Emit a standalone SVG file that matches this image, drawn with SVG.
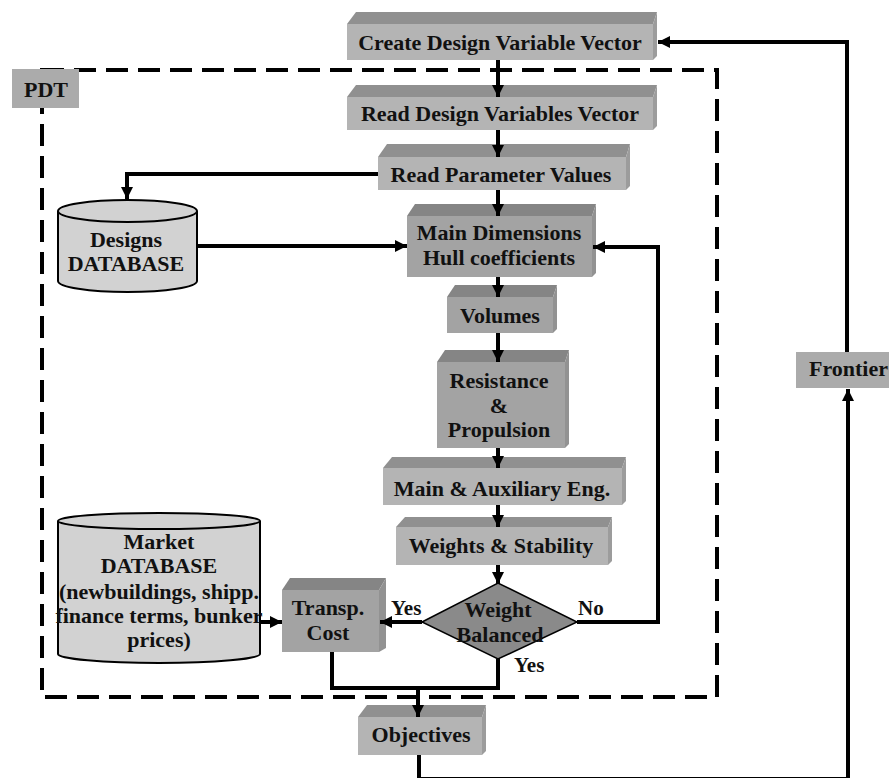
<svg xmlns="http://www.w3.org/2000/svg" width="889" height="778" viewBox="0 0 889 778" font-family="'Liberation Serif', 'Times New Roman', serif">
<style>
  text { font-family: 'Liberation Serif', 'Times New Roman', serif; font-weight: bold; font-size: 22px; fill: #111; text-anchor: middle; }
  .lbl { font-size: 21px; text-anchor: start; }
  .fl { fill: #b4b4b4; }
  .tl { fill: #909090; }
  .sl { fill: #9c9c9c; }
  .fd { fill: #a3a3a3; }
  .td { fill: #858585; }
  .sd { fill: #929292; }
  .flat { fill: #ababab; }
  .db { fill: #d2d2d2; stroke: #000; stroke-width: 2; }
  .conn { fill: none; stroke: #000; stroke-width: 4; }
  .dash { fill: none; stroke: #000; stroke-width: 4; stroke-dasharray: 22 10; }
</style>
<defs>
  <marker id="ah" markerUnits="userSpaceOnUse" markerWidth="14" markerHeight="14" refX="12" refY="7" orient="auto">
    <path d="M0,1 L12,7 L0,13 Z" fill="#000"/>
  </marker>
</defs>
<rect width="889" height="778" fill="#fff"/>

<rect id="pdt-border" class="dash" x="42" y="70" width="675" height="627"/>

<g id="pdt">
  <rect class="flat" x="12" y="69" width="67" height="39"/>
  <text x="46" y="97">PDT</text>
</g>

<g id="create">
  <polygon class="tl" points="347,24 356,12 657,12 653,24"/>
  <polygon class="sl" points="653,24 657,12 657,56 653,60"/>
  <rect class="fl" x="347" y="24" width="306" height="36"/>
  <text x="500" y="50">Create Design Variable Vector</text>
</g>

<g id="read-dv">
  <polygon class="tl" points="347,97 356,85 657,85 653,97"/>
  <polygon class="sl" points="653,97 657,85 657,126 653,130"/>
  <rect class="fl" x="347" y="97" width="306" height="33"/>
  <text x="500" y="121">Read Design Variables Vector</text>
</g>

<g id="read-param">
  <polygon class="tl" points="378,157 387,144 630,144 626,157"/>
  <polygon class="sl" points="626,157 630,144 630,186 626,190"/>
  <rect class="fl" x="378" y="157" width="248" height="33"/>
  <text x="501" y="182">Read Parameter Values</text>
</g>

<g id="designs-db">
  <path class="db" d="M58 211 V281 A69.5 11 0 0 0 197 281 V211"/>
  <ellipse class="db" cx="127.5" cy="211" rx="69.5" ry="11"/>
  <text x="126" y="247">Designs</text>
  <text x="126" y="271">DATABASE</text>
</g>

<g id="main-dim">
  <polygon class="td" points="407,216 415,204 596,204 592,216"/>
  <polygon class="sd" points="592,216 596,204 596,273 592,277"/>
  <rect class="fd" x="407" y="216" width="185" height="61"/>
  <text x="499" y="240">Main Dimensions</text>
  <text x="499" y="265">Hull coefficients</text>
</g>

<g id="volumes">
  <polygon class="td" points="447,297 455,285 557,285 553,297"/>
  <polygon class="sd" points="553,297 557,285 557,329 553,333"/>
  <rect class="fd" x="447" y="297" width="106" height="36"/>
  <text x="500" y="323">Volumes</text>
</g>

<g id="resistance">
  <polygon class="td" points="437,362 445,350 569,350 565,362"/>
  <polygon class="sd" points="565,362 569,350 569,444 565,448"/>
  <rect class="fd" x="437" y="362" width="128" height="86"/>
  <text x="499" y="388">Resistance</text>
  <text x="499" y="413">&amp;</text>
  <text x="499" y="437">Propulsion</text>
</g>

<g id="main-aux">
  <polygon class="tl" points="383,468 392,457 626,457 622,468"/>
  <polygon class="sl" points="622,468 626,457 626,501 622,505"/>
  <rect class="fl" x="383" y="468" width="239" height="37"/>
  <text x="502" y="496">Main &amp; Auxiliary Eng.</text>
</g>

<g id="weights">
  <polygon class="tl" points="396,527 405,517 612,517 608,527"/>
  <polygon class="sl" points="608,527 612,517 612,561 608,565"/>
  <rect class="fl" x="396" y="527" width="212" height="38"/>
  <text x="501" y="553">Weights &amp; Stability</text>
</g>

<g id="weight-balanced">
  <polygon points="422,622 498,583 577,622 498,659" fill="#8a8a8a" stroke="#000" stroke-width="1.5"/>
  <text x="498" y="617">Weight</text>
  <text x="500" y="642">Balanced</text>
</g>

<g id="market-db">
  <path class="db" d="M58 521 V654 A101 9 0 0 0 260 654 V521"/>
  <ellipse class="db" cx="159" cy="521" rx="101" ry="8"/>
  <text x="159" y="549">Market</text>
  <text x="159" y="573">DATABASE</text>
  <text x="159" y="599">(newbuildings, shipp.</text>
  <text x="159" y="623">finance terms, bunker</text>
  <text x="159" y="647">prices)</text>
</g>

<g id="transp">
  <polygon class="td" points="282,590 290,578 386,578 379,590"/>
  <polygon class="sd" points="379,590 386,578 386,648 379,652"/>
  <rect class="fd" x="282" y="590" width="97" height="62"/>
  <text x="328" y="615">Transp.</text>
  <text x="328" y="640">Cost</text>
</g>

<g id="objectives">
  <polygon class="tl" points="358,717 367,705 486,705 482,717"/>
  <polygon class="sl" points="482,717 486,705 486,751 482,755"/>
  <rect class="fl" x="358" y="717" width="124" height="38"/>
  <text x="421" y="742">Objectives</text>
</g>

<g id="frontier">
  <rect class="flat" x="796" y="352" width="100" height="36"/>
  <text x="809" y="376" style="text-anchor:start">Frontier</text>
</g>

<g id="connectors">
  <path class="conn" d="M498 60 V97" marker-end="url(#ah)"/>
  <path class="conn" d="M498 130 V157" marker-end="url(#ah)"/>
  <path class="conn" d="M498 190 V216" marker-end="url(#ah)"/>
  <path class="conn" d="M378 174 H127 V199" marker-end="url(#ah)"/>
  <path class="conn" d="M197 246 H407" marker-end="url(#ah)"/>
  <path class="conn" d="M498 277 V297" marker-end="url(#ah)"/>
  <path class="conn" d="M498 333 V362" marker-end="url(#ah)"/>
  <path class="conn" d="M498 448 V468" marker-end="url(#ah)"/>
  <path class="conn" d="M498 505 V527" marker-end="url(#ah)"/>
  <path class="conn" d="M498 565 V584" marker-end="url(#ah)"/>
  <path class="conn" d="M577 622 H658 V247 H593" marker-end="url(#ah)"/>
  <path class="conn" d="M422 622 H380" marker-end="url(#ah)"/>
  <path class="conn" d="M260 622 H282" marker-end="url(#ah)"/>
  <path class="conn" d="M498 659 V688 H332 V652"/>
  <path class="conn" d="M418 688 V717" marker-end="url(#ah)"/>
  <path class="conn" d="M419 755 V779 H848 V389" marker-end="url(#ah)"/>
  <path class="conn" d="M847 352 V42 H658" marker-end="url(#ah)"/>
</g>

<g id="labels">
  <text class="lbl" x="391" y="615">Yes</text>
  <text class="lbl" x="578" y="615">No</text>
  <text class="lbl" x="514" y="672">Yes</text>
</g>
</svg>
